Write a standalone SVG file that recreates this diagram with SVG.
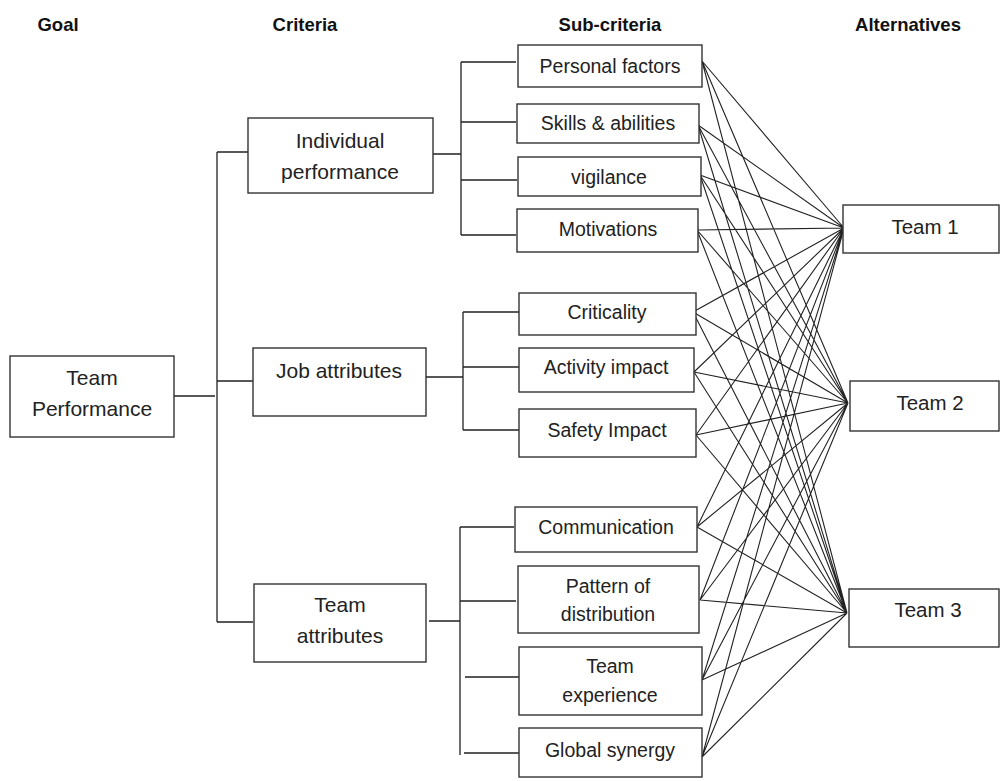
<svg xmlns="http://www.w3.org/2000/svg" width="1000" height="781" viewBox="0 0 1000 781">
<style>
.box{fill:#fff;stroke:#333;stroke-width:1.4}
.ln{fill:none;stroke:#222;stroke-width:1.3}
.fan{fill:none;stroke:#222;stroke-width:1.1}
.hd{font-family:"Liberation Sans",Arial,sans-serif;font-weight:bold;font-size:18.5px;fill:#111;text-anchor:middle}
.t1{font-family:"Liberation Sans",Arial,sans-serif;font-size:21px;fill:#222;text-anchor:middle}
.t2{font-family:"Liberation Sans",Arial,sans-serif;font-size:19.5px;fill:#222;text-anchor:middle}
.t3{font-family:"Liberation Sans",Arial,sans-serif;font-size:20.5px;fill:#222;text-anchor:middle}
</style>
<rect width="1000" height="781" fill="#fff"/>
<g id="headers">
<text class="hd" x="58" y="31">Goal</text>
<text class="hd" x="305" y="31">Criteria</text>
<text class="hd" x="610" y="31">Sub-criteria</text>
<text class="hd" x="908" y="31">Alternatives</text>
</g>
<g id="connectors">
<path class="ln" d="M174 396H215M217 152V622M217 152H248M217 381H253M217 622H253"/>
<path class="ln" d="M433 154H461M461 62V235M461 62H516M461 122H516M461 180H517M461 235H516"/>
<path class="ln" d="M426 377H463M463 312V430M463 312H519M463 367H519M463 430H519"/>
<path class="ln" d="M429 621H460M460 527V755M460 527H514M460 601H516M465 677H519M464 753H519"/>
<path class="fan" d="M702 61L844 228M702 61L848 403M702 61L847 613
M698 125L844 228M698 125L848 403M698 125L847 613
M700 175L844 228M700 175L848 403M700 175L847 613
M697 230L844 228M697 230L848 403M697 230L847 613
M693 312L844 228M693 312L848 403M693 312L847 613
M694 372L844 228M694 372L848 403M694 372L847 613
M696 435L844 228M696 435L848 403M696 435L847 613
M697 527L844 228M697 527L848 403M697 527L847 613
M700 600L844 228M700 600L848 403M700 600L847 613
M702 680L844 228M702 680L848 403M702 680L847 613
M702 757L844 228M702 757L848 403M702 757L847 613"/>
</g>
<g id="team-performance"><rect class="box" x="10" y="356" width="164" height="81"/><text class="t1" x="92" y="385">Team</text><text class="t1" x="92" y="416">Performance</text></g>
<g id="individual-performance"><rect class="box" x="248" y="118" width="185" height="75"/><text class="t1" x="340" y="148">Individual</text><text class="t1" x="340" y="179">performance</text></g>
<g id="job-attributes"><rect class="box" x="253" y="348" width="173" height="68"/><text class="t1" x="339" y="378">Job attributes</text></g>
<g id="team-attributes"><rect class="box" x="254" y="584" width="172" height="78"/><text class="t1" x="340" y="612">Team</text><text class="t1" x="340" y="643">attributes</text></g>
<g id="personal-factors"><rect class="box" x="518" y="45" width="184" height="42"/><text class="t2" x="610" y="73">Personal factors</text></g>
<g id="skills-abilities"><rect class="box" x="517" y="104" width="182" height="39"/><text class="t2" x="608" y="130">Skills &amp; abilities</text></g>
<g id="vigilance"><rect class="box" x="518" y="157" width="183" height="39"/><text class="t2" x="609" y="184">vigilance</text></g>
<g id="motivations"><rect class="box" x="517" y="209" width="181" height="43"/><text class="t2" x="608" y="236">Motivations</text></g>
<g id="criticality"><rect class="box" x="519" y="293" width="177" height="42"/><text class="t2" x="607" y="319">Criticality</text></g>
<g id="activity-impact"><rect class="box" x="519" y="348" width="175" height="44"/><text class="t2" x="606" y="374">Activity impact</text></g>
<g id="safety-impact"><rect class="box" x="519" y="409" width="177" height="48"/><text class="t2" x="607" y="437">Safety Impact</text></g>
<g id="communication"><rect class="box" x="515" y="507" width="182" height="45"/><text class="t2" x="606" y="534">Communication</text></g>
<g id="pattern-of-distribution"><rect class="box" x="518" y="566" width="181" height="67"/><text class="t2" x="608" y="593">Pattern of</text><text class="t2" x="608" y="621">distribution</text></g>
<g id="team-experience"><rect class="box" x="519" y="647" width="183" height="68"/><text class="t2" x="610" y="673">Team</text><text class="t2" x="610" y="702">experience</text></g>
<g id="global-synergy"><rect class="box" x="519" y="728" width="183" height="49"/><text class="t2" x="610" y="757">Global synergy</text></g>
<g id="team-1"><rect class="box" x="843" y="205" width="156" height="48"/><text class="t3" x="925" y="234">Team 1</text></g>
<g id="team-2"><rect class="box" x="850" y="381" width="149" height="50"/><text class="t3" x="930" y="410">Team 2</text></g>
<g id="team-3"><rect class="box" x="849" y="589" width="150" height="58"/><text class="t3" x="928" y="617">Team 3</text></g>
</svg>
